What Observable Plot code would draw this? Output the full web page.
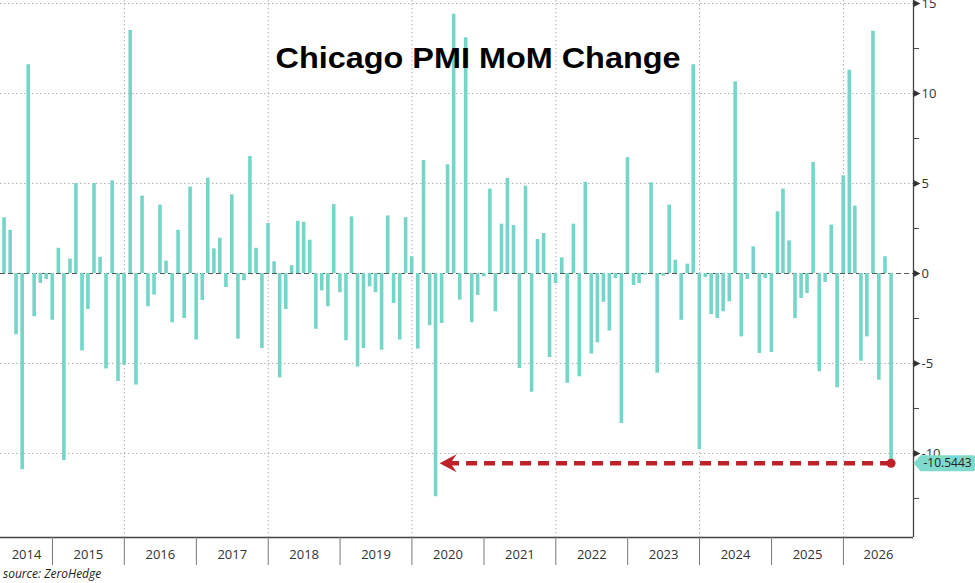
<!DOCTYPE html>
<html>
<head>
<meta charset="utf-8">
<script src="https://cdn.jsdelivr.net/npm/d3@7"></script>
<script src="https://cdn.jsdelivr.net/npm/@observablehq/plot@0.6"></script>
<style>
  body { margin: 0; background: #fff; }
  #chart svg { display: block; }
  .source { font-family: 'Open Sans', sans-serif; font-style: italic; font-size: 12px; line-height: 15px; height: 17px; color: #222; padding-left: 3px; }
</style>
</head>
<body>
<div id="chart"></div>
<div class="source" id="source"></div>
<script>
// ---------- data ----------
const title = "Chicago PMI MoM Change";
const sourceText = "source: ZeroHedge";
const firstYear = 2014;
const firstMonthIndex = 3; // April 2014 (0-based month)
const v2014 = [3.1, 2.4, -3.4, -10.9, 11.6, -2.4, -0.55, -0.33, -2.6];
const v2015 = [1.4, -10.4, 0.8, 5.0, -4.3, -2.0, 5.0, 0.9, -5.3, 5.15, -6.0, -5.1];
const v2016 = [13.5, -6.2, 4.3, -1.85, -1.2, 3.8, 0.69, -2.74, 2.4, -2.5, 4.8, -3.7];
const v2017 = [-1.5, 5.3, 1.37, 1.96, -0.78, 4.37, -3.65, -0.4, 6.5, 1.4, -4.17, 2.78];
const v2018 = [0.65, -5.8, -2.0, 0.44, 2.9, 2.85, 1.85, -3.1, -0.96, -1.85, 3.83, -1.07];
const v2019 = [-3.74, 3.15, -5.2, -4.17, -0.74, -1.07, -4.26, 3.2, -1.67, -3.7, 3.1, 0.93];
const v2020 = [-4.2, 6.28, -2.9, -12.4, -2.78, 6.04, 14.4, -1.48, 13.1, -2.74, -1.22, -0.19];
const v2021 = [4.69, -2.13, 2.74, 5.28, 2.67, -5.28, 4.85, -6.6, 1.89, 2.22, -4.67, -0.56];
const v2022 = [0.87, -6.1, 2.74, -5.74, 5.06, -4.48, -3.85, -1.6, -3.2, -0.28, -8.33, 6.44];
const v2023 = [-0.67, -0.56, -0.1, 5.04, -5.54, -0.15, 3.8, 0.74, -2.6, 0.52, 11.6, -9.78];
const v2024 = [-0.22, -2.28, -2.5, -2.13, -1.57, 10.65, -3.52, -0.33, 1.48, -4.44, -0.28, -4.39];
const v2025 = [3.43, 4.69, 1.81, -2.5, -1.39, -1.11, 6.17, -5.46, -0.5, 2.69, -6.35, 5.43];
const v2026 = [11.3, 3.74, -4.87, -3.52, 13.46, -5.93, 0.93, -10.5443];
const years = [2014, 2015, 2016, 2017, 2018, 2019, 2020, 2021, 2022, 2023, 2024, 2025, 2026];
const yearValues = [v2014, v2015, v2016, v2017, v2018, v2019, v2020, v2021, v2022, v2023, v2024, v2025, v2026];
const majorTicks = [15, 10, 5, 0, -5, -10];
const minorTicks = [12.5, 7.5, 2.5, -2.5, -7.5, -12.5];
const gridTicks = [15, 10, 5, -5, -10];
const gridYears = [2016, 2018, 2020, 2022, 2024, 2026];
const xDomain = [new Date(Date.UTC(2014, 3, 12)), new Date(Date.UTC(2026, 11, 23))];
const yDomain = [-14.67, 15.17];

// ---------- build table ----------
const barColor = "#74d6c8";
const red = "#bd2228";
const data = [];
years.forEach((yr, i) => {
  yearValues[i].forEach((v, j) => {
    const m = (yr === firstYear ? firstMonthIndex : 0) + j;
    data.push({date: new Date(Date.UTC(yr, m + 1, 0)), value: v}); // plotted at month end
  });
});
const last = data[data.length - 1];
let target = null;
for (let i = data.length - 2; i >= 0; --i) { if (data[i].value <= last.value) { target = data[i]; break; } }

const yearStarts = years.map(y => new Date(Date.UTC(y, 0, 1))).filter(d => d > xDomain[0] && d < xDomain[1]);
const gridDates = gridYears.map(y => new Date(Date.UTC(y, 0, 1)));
const yearLabels = years.map(y => {
  const a = Math.max(+new Date(Date.UTC(y, 0, 1)), +xDomain[0]);
  const b = Math.min(+new Date(Date.UTC(y + 1, 0, 1)), +xDomain[1]);
  return {label: String(y), mid: new Date((a + b) / 2)};
});

// ---------- custom symbols ----------
const tagSymbol = {draw(ctx) {
  ctx.moveTo(0, 0); ctx.lineTo(7, -8); ctx.lineTo(59, -8);
  ctx.quadraticCurveTo(62, -8, 62, -5); ctx.lineTo(62, 5);
  ctx.quadraticCurveTo(62, 8, 59, 8); ctx.lineTo(7, 8); ctx.closePath();
}};
const headSymbol = {draw(ctx) {
  ctx.moveTo(0, 0); ctx.lineTo(17, -9); ctx.lineTo(11, 0); ctx.lineTo(17, 9); ctx.closePath();
}};
const tickSymbol = {draw(ctx) {
  ctx.moveTo(0, -3.5); ctx.lineTo(7, 0); ctx.lineTo(0, 3.5); ctx.closePath();
}};

const chart = Plot.plot({
  width: 975,
  height: 566,
  marginLeft: 0,
  marginRight: 62,
  marginTop: 0,
  marginBottom: 29,
  style: {fontFamily: "'Open Sans', sans-serif", fontSize: "13px", color: "#333", background: "#fff"},
  x: {type: "utc", domain: xDomain},
  y: {domain: yDomain},
  marks: [
    Plot.ruleY(gridTicks, {stroke: "#b0b0b0", strokeDasharray: "1.5,2.5", strokeWidth: 1}),
    Plot.ruleX(gridDates, {stroke: "#b0b0b0", strokeDasharray: "1.5,2.5", strokeWidth: 1}),
    Plot.ruleY([0], {stroke: "#555", strokeDasharray: "5,3", strokeWidth: 1}),
    Plot.ruleX(data, {x: "date", y1: 0, y2: "value", stroke: barColor, strokeWidth: 3.6}),
    Plot.ruleY([yDomain[0]], {stroke: "#444", strokeWidth: 1.3}),
    Plot.ruleX([xDomain[1]], {stroke: "#444", strokeWidth: 1.3}),
    Plot.axisX({ticks: yearStarts, tickSize: 28, tickFormat: () => "", stroke: "#777", label: null}),
    Plot.text(yearLabels, {x: "mid", text: "label", frameAnchor: "bottom", dy: 21, fontSize: 13, fill: "#333"}),
    Plot.axisY({anchor: "right", ticks: minorTicks, tickSize: 5, tickFormat: () => "", stroke: "#444", label: null}),
    Plot.axisY({anchor: "right", ticks: majorTicks, tickSize: 0, tickPadding: 8, tickFormat: d => String(d), fontSize: 13, color: "#333", label: null}),
    Plot.dot(majorTicks, {y: d => d, frameAnchor: "right", symbol: tickSymbol, fill: "#333", stroke: null}),
    Plot.arrow([{x1: last.date, x2: target.date, y: last.value}], {x1: "x1", x2: "x2", y1: "y", y2: "y", stroke: red, strokeWidth: 4.5, strokeDasharray: "11,7", strokeLinecap: "butt", headLength: 0, insetEnd: 15}),
    Plot.dot([target], {x: "date", y: () => last.value, symbol: headSymbol, fill: red, stroke: null, dx: 4}),
    Plot.dot([last], {x: "date", y: "value", r: 4.5, fill: red, stroke: null}),
    Plot.dot([last], {y: "value", frameAnchor: "right", symbol: tagSymbol, fill: "#7fdacd", stroke: null}),
    Plot.text([last], {y: "value", frameAnchor: "right", text: d => d.value.toFixed(4), dx: 10, textAnchor: "start", fontSize: 12, fill: "#222"}),
    Plot.text([title], {text: d => d, frameAnchor: "top", dx: 21, dy: 46, fontSize: 30, fontWeight: "bold", fontFamily: "'Liberation Sans', Arial, sans-serif", fill: "#000"})
  ]
});

d3.select(chart).selectAll("text").filter(function() { return this.textContent === title; })
  .attr("textLength", 405).attr("lengthAdjust", "spacingAndGlyphs");

document.getElementById("chart").append(chart);
document.getElementById("source").textContent = sourceText;
</script>
</body>
</html>
